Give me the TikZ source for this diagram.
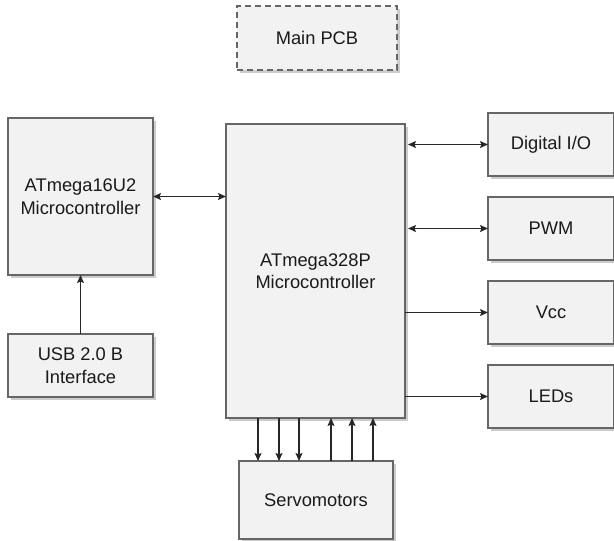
\documentclass[tikz,border=0pt]{standalone}
\usepackage{fontspec}
\setmainfont{Liberation Sans}
\usetikzlibrary{arrows.meta,shadows,calc}
\definecolor{boxfill}{HTML}{F2F2F2}
\definecolor{boxline}{HTML}{666666}
\definecolor{txt}{HTML}{1A1A1A}
\begin{document}
\begin{tikzpicture}[x=1pt,y=-1pt,
  blk/.style={draw=boxline, fill=boxfill, line width=1.2pt, text=txt,
    align=center, font=\fontsize{18.3}{22.5}\selectfont, inner sep=0pt, outer sep=0pt,
    drop shadow={shadow xshift=3pt, shadow yshift=-3pt, fill=black!25, opacity=0.8},
    anchor=north west},
  conn/.style={line width=1.2pt, draw=black!85, -{Stealth[length=8pt,width=7pt,inset=1.5pt]}},
  bconn/.style={line width=1.2pt, draw=black!85, {Stealth[length=8pt,width=7pt,inset=1.5pt]}-{Stealth[length=8pt,width=7pt,inset=1.5pt]}}
]
\useasboundingbox (0,0) rectangle (614,541);

\node[blk, dashed, dash pattern=on 6pt off 4pt, line width=1.4pt, minimum width=160, minimum height=64] (pcb) at (237,6) {Main PCB};

\node[blk, minimum width=145, minimum height=157] (u2) at (8,118) {ATmega16U2\\Microcontroller};
\node[blk, minimum width=145, minimum height=63] (usb) at (8,334) {USB 2.0 B\\Interface};
\node[blk, minimum width=179, minimum height=294] (p328) at (226,124) {ATmega328P\\Microcontroller};
\node[blk, minimum width=126, minimum height=63] (dio) at (488,113) {Digital I/O};
\node[blk, minimum width=126, minimum height=63] (pwm) at (488,197) {PWM};
\node[blk, minimum width=126, minimum height=63] (vcc) at (488,281) {Vcc};
\node[blk, minimum width=126, minimum height=63] (led) at (488,365) {LEDs};
\node[blk, minimum width=154, minimum height=78] (servo) at (239,461) {Servomotors};

\draw[bconn] (u2.east) -- (u2.east -| p328.west);
\draw[conn] (usb.north) -- (u2.south);

\draw[bconn] ([xshift=3pt]dio.west -| p328.east) -- (dio.west);
\draw[bconn] ([xshift=3pt]pwm.west -| p328.east) -- (pwm.west);
\draw[conn] (vcc.west -| p328.east) -- (vcc.west);
\draw[conn] (led.west -| p328.east) -- (led.west);

\foreach \dx/\nm in {19/d1,40/d2,60/d3,92/u1,113/u2c,134/u3}
  \coordinate (\nm) at ($(servo.north west)+(\dx,0)$);
\foreach \nm in {d1,d2,d3}
  \draw[conn] (\nm |- p328.south) -- (\nm);
\foreach \nm in {u1,u2c,u3}
  \draw[conn] (\nm) -- (\nm |- p328.south);
\end{tikzpicture}
\end{document}
